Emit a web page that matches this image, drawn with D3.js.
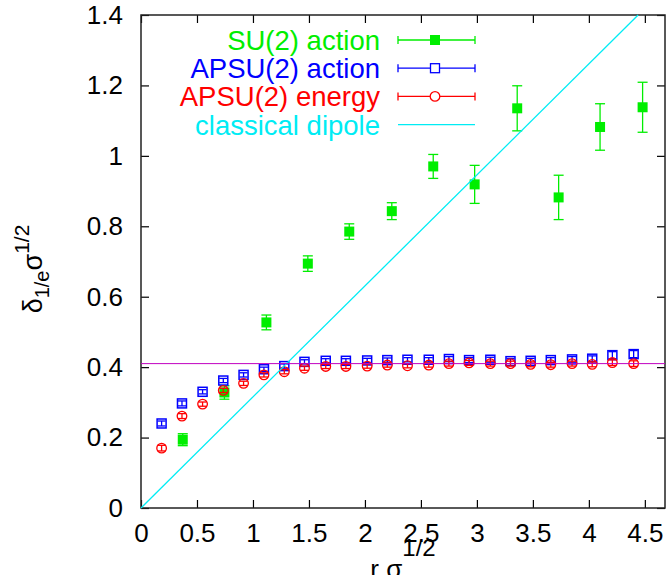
<html>
	<meta charset="UTF-8">
	<head>
		<title>delta 1/e</title>
		<style>
			body { margin: 0; background: #fff; }
			text { font-family: "Liberation Sans", Arial, sans-serif; }
		</style>
	</head>

	<body>
        <script src="https://d3js.org/d3.v7.min.js"></script>
        <script>

            // SU(2) action
            let su2_x = [0.373, 0.745, 1.12, 1.49, 1.86, 2.24, 2.61, 2.98, 3.36, 3.73, 4.10, 4.48]
            let su2_y = [0.194, 0.328, 0.527, 0.694, 0.785, 0.843, 0.970, 0.919, 1.135, 0.882, 1.082, 1.138]
            let su2_err = [0.017, 0.019, 0.021, 0.022, 0.022, 0.024, 0.034, 0.054, 0.064, 0.063, 0.066, 0.071]

            // APSU(2) action / energy share the same r values
            let apsu_x = [0.184, 0.366, 0.55, 0.735, 0.916, 1.098, 1.28, 1.46, 1.65, 1.83, 2.02, 2.20,
                          2.38, 2.57, 2.75, 2.93, 3.12, 3.30, 3.48, 3.66, 3.85, 4.03, 4.21, 4.40]
            let apsu_action_y = [0.240, 0.297, 0.330, 0.362, 0.378, 0.394, 0.403, 0.415, 0.418, 0.418, 0.419, 0.420,
                                 0.421, 0.421, 0.423, 0.420, 0.421, 0.417, 0.418, 0.420, 0.422, 0.424, 0.434, 0.437]
            let apsu_action_err = [0.007, 0.007, 0.006, 0.006, 0.006, 0.006, 0.006, 0.006, 0.006, 0.006, 0.006, 0.006,
                                   0.006, 0.006, 0.007, 0.007, 0.007, 0.007, 0.007, 0.007, 0.008, 0.008, 0.010, 0.010]
            let apsu_energy_y = [0.170, 0.261, 0.295, 0.334, 0.354, 0.378, 0.387, 0.397, 0.402, 0.402, 0.403, 0.406,
                                 0.404, 0.406, 0.410, 0.412, 0.410, 0.410, 0.408, 0.407, 0.410, 0.408, 0.413, 0.410]
            let apsu_energy_err = [0.008, 0.007, 0.006, 0.006, 0.006, 0.006, 0.006, 0.006, 0.006, 0.006, 0.006, 0.006,
                                   0.006, 0.006, 0.007, 0.007, 0.007, 0.007, 0.007, 0.007, 0.007, 0.007, 0.008, 0.008]

            // classical dipole line end points, and the horizontal reference level
            let dipole_x = [0, 4.44]
            let dipole_y = [0, 1.4]
            let ref_level = 0.41

            let x_ticks = [0, 0.5, 1, 1.5, 2, 2.5, 3, 3.5, 4, 4.5]
            let y_ticks = [0, 0.2, 0.4, 0.6, 0.8, 1, 1.2, 1.4]
            let legend_labels = ["SU(2) action", "APSU(2) action", "APSU(2) energy", "classical dipole"]

            let green = "#00ee00", blue = "#0000ff", red = "#ff0000", cyan = "#00ecf4"

            let W = 666, H = 575
            let m_left = 141, m_right = 665, m_top = 15, m_bottom = 508

            let x = d3.scaleLinear().domain([0, 4.68]).range([m_left, m_right])
            let y = d3.scaleLinear().domain([0, 1.4]).range([m_bottom, m_top])

            let canvas = d3.select("body")
                .append("svg")
                .attr("width", W)
                .attr("height", H)

            // ticks on all four sides, pointing inward
            let tick_len = 8
            let fmt = d => d3.format("")(d)
            canvas.append("g")
                .attr("transform", "translate(0," + m_bottom + ")")
                .call(d3.axisBottom(x).tickValues(x_ticks).tickSize(-tick_len).tickFormat(fmt).tickPadding(16))
                .call(g => g.select(".domain").remove())
                .call(g => g.selectAll("text").attr("font-size", 26).attr("fill", "#000").attr("font-family", "Liberation Sans, Arial, sans-serif"))
            canvas.append("g")
                .attr("transform", "translate(0," + m_top + ")")
                .call(d3.axisTop(x).tickValues(x_ticks).tickSize(-tick_len).tickFormat(""))
                .call(g => g.select(".domain").remove())
            canvas.append("g")
                .attr("transform", "translate(" + m_left + ",0)")
                .call(d3.axisLeft(y).tickValues(y_ticks).tickSize(-tick_len).tickFormat(fmt).tickPadding(18))
                .call(g => g.select(".domain").remove())
                .call(g => g.selectAll("text").attr("font-size", 26).attr("fill", "#000").attr("font-family", "Liberation Sans, Arial, sans-serif"))
            canvas.append("g")
                .attr("transform", "translate(" + m_right + ",0)")
                .call(d3.axisRight(y).tickValues(y_ticks).tickSize(-tick_len).tickFormat(""))
                .call(g => g.select(".domain").remove())
            canvas.selectAll(".tick line").attr("stroke", "#000").attr("stroke-width", 1.2)

            canvas.append("rect")
                .attr("x", m_left)
                .attr("y", m_top)
                .attr("width", m_right - m_left)
                .attr("height", m_bottom - m_top)
                .attr("fill", "none")
                .attr("stroke", "#222")
                .attr("stroke-width", 1.5)

            let plot = canvas.append("g")

            function error_bars(g, xs, ys, es, color, cap){
                let data = xs.map((v, i) => ({x: v, y: ys[i], e: es[i]}))
                let bars = g.append("g").selectAll("g")
                    .data(data).enter()
                    .append("g")
                    .attr("stroke", color)
                    .attr("stroke-width", 1.3)
                bars.append("line")
                    .attr("x1", d => x(d.x)).attr("x2", d => x(d.x))
                    .attr("y1", d => y(d.y - d.e)).attr("y2", d => y(d.y + d.e))
                bars.append("line")
                    .attr("x1", d => x(d.x) - cap).attr("x2", d => x(d.x) + cap)
                    .attr("y1", d => y(d.y - d.e)).attr("y2", d => y(d.y - d.e))
                bars.append("line")
                    .attr("x1", d => x(d.x) - cap).attr("x2", d => x(d.x) + cap)
                    .attr("y1", d => y(d.y + d.e)).attr("y2", d => y(d.y + d.e))
                return data
            }

            // SU(2) action
            let su2 = error_bars(plot, su2_x, su2_y, su2_err, green, 5)
            plot.append("g").selectAll("rect")
                .data(su2).enter()
                .append("rect")
                .attr("x", d => x(d.x) - 5).attr("y", d => y(d.y) - 5)
                .attr("width", 10).attr("height", 10)
                .attr("fill", green)

            // APSU(2) action
            let apa = error_bars(plot, apsu_x, apsu_action_y, apsu_action_err, blue, 4)
            plot.append("g").selectAll("rect")
                .data(apa).enter()
                .append("rect")
                .attr("x", d => x(d.x) - 4.5).attr("y", d => y(d.y) - 4.5)
                .attr("width", 9).attr("height", 9)
                .attr("fill", "none")
                .attr("stroke", blue)
                .attr("stroke-width", 1.5)

            // APSU(2) energy
            let ape = error_bars(plot, apsu_x, apsu_energy_y, apsu_energy_err, red, 4)
            plot.append("g").selectAll("circle")
                .data(ape).enter()
                .append("circle")
                .attr("cx", d => x(d.x)).attr("cy", d => y(d.y))
                .attr("r", 4.8)
                .attr("fill", "none")
                .attr("stroke", red)
                .attr("stroke-width", 1.3)

            // classical dipole
            plot.append("path")
                .datum(dipole_x.map((v, i) => [v, dipole_y[i]]))
                .attr("d", d3.line().x(d => x(d[0])).y(d => y(d[1])))
                .attr("stroke", cyan)
                .attr("stroke-width", 1.3)
                .attr("fill", "none")

            plot.append("line")
                .attr("x1", m_left).attr("x2", m_right)
                .attr("y1", y(ref_level)).attr("y2", y(ref_level))
                .attr("stroke", "#c000c0")
                .attr("stroke-width", 1)

            // legend
            let legend_colors = [green, blue, red, cyan]
            let legend = canvas.append("g")
            let row = legend.selectAll("g")
                .data(legend_labels).enter()
                .append("g")
                .attr("transform", (d, i) => "translate(0," + (40 + i * 28.2) + ")")
            row.append("text")
                .attr("x", 380)
                .attr("y", 0)
                .attr("dy", "0.36em")
                .attr("text-anchor", "end")
                .attr("font-size", 27.5)
                .attr("fill", (d, i) => legend_colors[i])
                .text(d => d)
            row.append("line")
                .attr("x1", 398).attr("x2", 475)
                .attr("stroke", (d, i) => legend_colors[i])
                .attr("stroke-width", 1.3)
            row.filter((d, i) => i < 3).each(function(d, i){
                let r = d3.select(this)
                r.append("line").attr("x1", 398).attr("x2", 398).attr("y1", -4).attr("y2", 4)
                    .attr("stroke", legend_colors[i]).attr("stroke-width", 1.3)
                r.append("line").attr("x1", 475).attr("x2", 475).attr("y1", -4).attr("y2", 4)
                    .attr("stroke", legend_colors[i]).attr("stroke-width", 1.3)
                if (i == 0) {
                    r.append("rect").attr("x", 430).attr("y", -5).attr("width", 10).attr("height", 10).attr("fill", green)
                } else if (i == 1) {
                    r.append("rect").attr("x", 430.5).attr("y", -4.5).attr("width", 9).attr("height", 9)
                        .attr("fill", "#fff").attr("stroke", blue).attr("stroke-width", 1.3)
                } else {
                    r.append("circle").attr("cx", 435).attr("cy", 0).attr("r", 4.8)
                        .attr("fill", "#fff").attr("stroke", red).attr("stroke-width", 1.3)
                }
            })

            // axis titles
            let xt = canvas.append("text")
                .attr("x", 403)
                .attr("y", 578)
                .attr("text-anchor", "middle")
                .attr("font-size", 26)
            xt.append("tspan").text("r σ")
            xt.append("tspan").attr("dy", -22).attr("font-size", 24).text("1/2")

            let yt = canvas.append("text")
                .attr("transform", "translate(42,269) rotate(-90)")
                .attr("text-anchor", "middle")
                .attr("font-size", 27)
            yt.append("tspan").text("δ")
            yt.append("tspan").attr("dy", 7).attr("font-size", 20).text("1/e")
            yt.append("tspan").attr("dy", -7).text("σ")
            yt.append("tspan").attr("dy", -13).attr("font-size", 21).text("1/2")
        </script>
    </body>

</html>
